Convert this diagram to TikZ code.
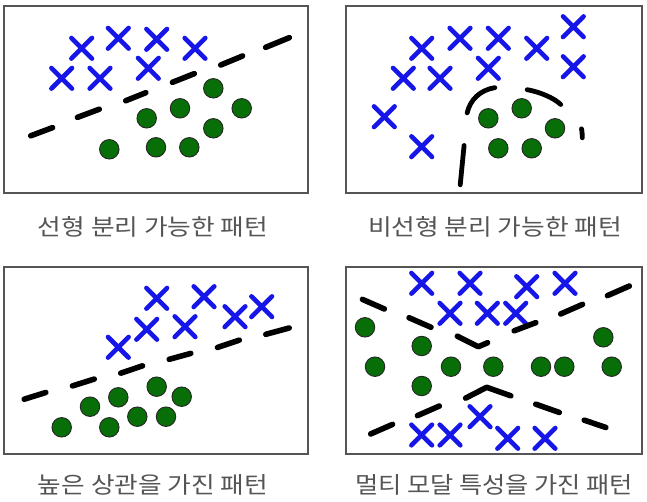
\documentclass[tikz,border=0pt]{standalone}
\usepackage{fontspec}
\newfontfamily\krfont{Noto Sans CJK KR}
\usetikzlibrary{shapes.misc}
\definecolor{xblue}{RGB}{22,22,232}
\definecolor{dotgreen}{RGB}{8,110,8}
\definecolor{framegray}{RGB}{85,85,85}
\definecolor{labelgray}{RGB}{85,85,85}
\tikzset{
  panel/.style={draw=framegray, line width=2.4pt, fill=white},
  xmark/.style={cross out, draw=xblue, line width=4.6pt, line cap=round, minimum size=16pt, inner sep=0pt},
  dot/.style={circle, fill=dotgreen, draw=black!85, line width=0.9pt, minimum size=19.5pt, inner sep=0pt},
  seg/.style={line width=5.6pt, line cap=round, draw=black, shorten <=2.6pt, shorten >=2.6pt},
  lbl/.style={text=labelgray, inner sep=0pt}
}
\begin{document}
\begin{tikzpicture}[x=1pt,y=-1pt]
\useasboundingbox (0,0) rectangle (647,502);
% panels
\draw[panel] (4,6) rectangle (308,193);
\draw[panel] (346,6) rectangle (642,193);
\draw[panel] (4,267) rectangle (308,454);
\draw[panel] (346,267) rectangle (642,454);

% ---------- panel 1 ----------
\foreach \p [count=\i] in {(81.7,48.3),(118.3,38.3),(156.7,39.3),(195,48.3),(61.7,78.3),(100,78.3),(148.3,68.3)}
  \node[xmark] (ax\i) at \p {};
\foreach \p [count=\i] in {(213.3,88.3),(180,108.3),(146.7,118.3),(241.7,108.3),(213.3,128.3),(109.3,149.3),(156,147.3),(189.3,147.3)}
  \node[dot] (ad\i) at \p {};
\foreach \a/\b in {{28.3,136.7}/{55,126.7},{75,118.3}/{101.7,108.3},{123.3,101.7}/{148.3,91.7},{170,83.3}/{196.7,72.7},{218.3,66}/{245,55},{263.3,48.3}/{291.7,36.7}}
  \draw[seg] (\a) -- (\b);

% ---------- panel 2 ----------
\foreach \p [count=\i] in {(421.7,48.3),(460,38.3),(498.3,38.3),(536.7,48.3),(573.3,26.7),(403.3,78.3),(440,78.3),(488.3,68.3),(573.3,66.7),(384.3,116.7),(421.7,146.7)}
  \node[xmark] (bx\i) at \p {};
\foreach \p [count=\i] in {(488.3,118.3),(521.7,108.3),(555,128.3),(498.3,148.3),(531.7,148.3)}
  \node[dot] (bd\i) at \p {};
\begin{scope}[seg/.append style={line width=4.8pt, shorten <=2.2pt, shorten >=2.2pt}]
\draw[seg] (466.7,115) .. controls (470,100) and (480,90) .. (497,87.3);
\draw[seg] (525,89.3) .. controls (540,92) and (554,98) .. (562.3,106);
\draw[seg] (581,126.7) .. controls (582,131) and (582.3,135) .. (582.3,140);
\draw[seg] (464.3,143.3) -- (460,187);
\end{scope}

% ---------- panel 3 ----------
\foreach \p [count=\i] in {(156.7,298.3),(204,296.7),(261.7,306.7),(235,316.7),(146.7,329.3),(185,326.7),(118.3,347.3)}
  \node[xmark] (cx\i) at \p {};
\foreach \p [count=\i] in {(156.7,386.7),(181.7,396.7),(118.3,397.3),(90,406.7),(137.3,416.7),(166,416.7),(61.7,427.3),(109.3,427.3)}
  \node[dot] (cd\i) at \p {};
\foreach \a/\b in {{21.7,400}/{48.3,391.7},{70,386.7}/{96.7,378.3},{118.3,374}/{145,365},{166.7,360}/{193.3,352.7},{215,348.3}/{241.7,339.3},{263.3,335}/{291.7,327.3}}
  \draw[seg] (\a) -- (\b);

% ---------- panel 4 ----------
\foreach \p [count=\i] in {(421.7,283.3),(470,283.3),(526.7,286.7),(565,283.3),(450,313.3),(487.3,313.3),(515.7,313.3),(480,416.7),(421.7,435),(450,435),(507.7,438.3),(545,438.3)}
  \node[xmark] (dx\i) at \p {};
\foreach \p [count=\i] in {(365,327.3),(421.7,346),(375,366.7),(451,366.7),(493.3,366.7),(541,366.7),(564.3,366.7),(603.3,337.3),(611.7,366.7),(421.7,386)}
  \node[dot] (dd\i) at \p {};
\foreach \a/\b in {{360,298.3}/{386.7,310},{406.7,316.7}/{433.3,328.3},{511.7,331.7}/{538.3,321.7},{558.3,315}/{585,303.3},{605,296.7}/{631.7,285},
                   {368.3,435}/{395,423.3},{415,416.7}/{441.7,405},{533.3,403.3}/{561.7,413.3},{581.7,419.3}/{608.3,428.3}}
  \draw[seg] (\a) -- (\b);
\draw[seg, line join=round] (455,335) -- (478.3,346.7) -- (490,341.7);
\draw[seg, line join=round] (463.3,399.3) -- (486.7,387.3) -- (513.3,396.7);

% ---------- labels ----------
\node[lbl] (l1) at (153,227) {\resizebox{230pt}{19pt}{\krfont 선형 분리 가능한 패턴}};
\node[lbl] (l2) at (495,227) {\resizebox{254pt}{19pt}{\krfont 비선형 분리 가능한 패턴}};
\node[lbl] (l3) at (153,485) {\resizebox{230pt}{19pt}{\krfont 높은 상관을 가진 패턴}};
\node[lbl] (l4) at (494,485) {\resizebox{278pt}{19pt}{\krfont 멀티 모달 특성을 가진 패턴}};
\end{tikzpicture}
\end{document}
